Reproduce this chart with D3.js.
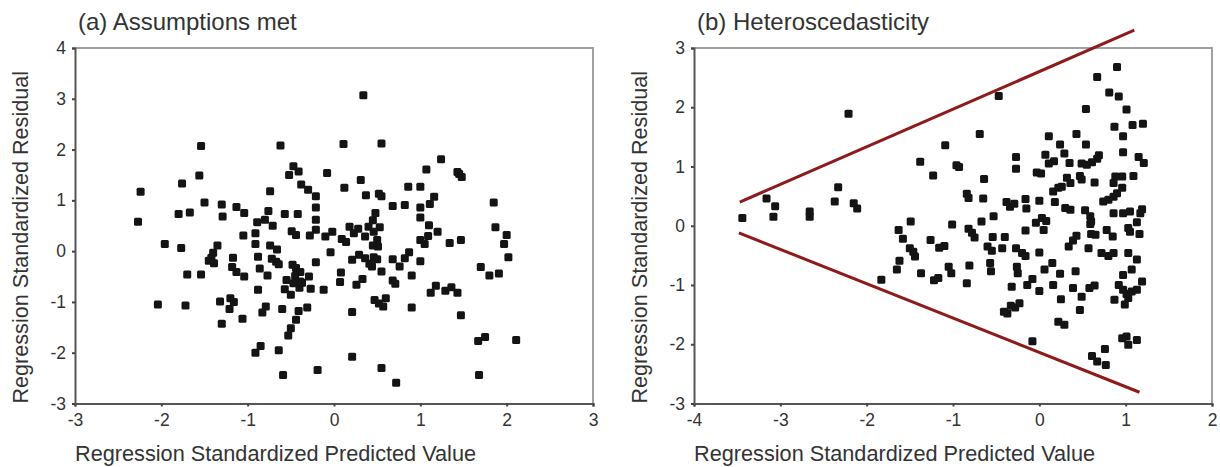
<!DOCTYPE html>
<html>
<head>
<meta charset="utf-8">
<script src="https://cdn.jsdelivr.net/npm/d3@7"></script>
<style>
  body { margin: 0; background: #fff; }
  svg text { font-family: "Liberation Sans", Arial, sans-serif; fill: #333; }
</style>
</head>
<body>
<div id="chart"></div>
<script>
// residuals vs predicted, panel (a)
const assumptionsMet = [
  [0.34,3.07],[-1.54,2.07],[-0.62,2.08],[0.11,2.11],[0.55,2.12],[1.24,1.81],[-1.56,1.49],[-0.47,1.67],
  [-0.41,1.57],[-0.52,1.50],[-0.08,1.54],[1.07,1.61],[1.43,1.56],[1.45,1.52],[1.48,1.46],[0.31,1.40],
  [-1.76,1.33],[-2.24,1.17],[-0.74,1.18],[-0.38,1.31],[-0.30,1.21],[0.12,1.25],[0.86,1.27],[1.00,1.27],
  [-0.21,1.08],[0.37,1.10],[0.52,1.13],[0.55,1.08],[1.16,1.07],[-1.50,0.96],[-1.30,0.92],[1.85,0.96],
  [-1.13,0.87],[-0.21,0.86],[0.68,0.89],[0.82,0.91],[1.00,0.86],[1.11,0.93],[-1.67,0.76],[-1.80,0.73],
  [-1.29,0.68],[-1.04,0.75],[-0.76,0.79],[-0.57,0.73],[-0.42,0.73],[-2.27,0.58],[-0.89,0.57],[-0.80,0.62],
  [-0.71,0.50],[-0.21,0.62],[0.48,0.75],[0.45,0.61],[1.00,0.66],[-1.05,0.31],[-0.91,0.35],[-0.49,0.39],
  [-0.44,0.32],[-0.28,0.31],[-0.21,0.42],[-0.10,0.29],[-0.02,0.38],[0.09,0.24],[0.18,0.48],[0.23,0.35],
  [0.28,0.44],[0.36,0.29],[0.40,0.48],[0.53,0.47],[1.09,0.30],[1.10,0.51],[1.20,0.38],[1.87,0.47],
  [2.00,0.32],[-1.96,0.14],[-1.77,0.06],[-1.35,0.11],[-0.91,0.14],[-0.74,0.11],[-0.66,0.03],[-0.04,-0.02],
  [0.14,0.18],[0.45,0.11],[0.51,0.09],[1.00,0.22],[1.05,0.14],[1.34,0.16],[1.47,0.22],[1.97,0.14],
  [-1.40,-0.03],[-1.42,-0.13],[-1.45,-0.19],[-1.39,-0.24],[-1.17,-0.13],[-0.88,-0.11],[-0.72,-0.15],[-0.67,-0.21],
  [-0.64,-0.26],[-0.21,-0.22],[0.21,-0.17],[0.29,-0.07],[0.36,-0.14],[0.41,-0.25],[0.46,-0.12],[0.50,-0.16],
  [0.68,-0.16],[0.76,-0.30],[0.82,-0.14],[0.87,-0.02],[1.00,-0.20],[2.02,-0.12],[-1.70,-0.46],[-1.54,-0.46],
  [-1.18,-0.31],[-1.13,-0.41],[-1.04,-0.50],[-0.86,-0.34],[-0.77,-0.48],[-0.48,-0.27],[-0.44,-0.33],[-0.39,-0.41],
  [-0.29,-0.50],[0.08,-0.42],[0.55,-0.40],[0.90,-0.48],[1.70,-0.31],[1.80,-0.48],[1.91,-0.44],[-0.55,-0.57],
  [-0.45,-0.49],[-0.37,-0.62],[0.07,-0.61],[0.26,-0.66],[0.33,-0.55],[0.68,-0.58],[0.71,-0.64],[-0.88,-0.76],
  [-0.57,-0.75],[-0.50,-0.86],[-0.40,-0.72],[-0.27,-0.74],[-0.12,-0.76],[1.12,-0.82],[1.18,-0.68],[1.29,-0.78],
  [1.36,-0.71],[1.43,-0.82],[-2.04,-1.05],[-1.72,-1.07],[-1.32,-0.99],[-1.20,-0.93],[-1.16,-1.00],[-1.21,-1.14],
  [-0.79,-1.09],[-0.83,-1.21],[-0.60,-1.14],[-0.41,-1.18],[-0.31,-1.11],[0.47,-0.96],[0.52,-1.03],[0.60,-0.93],
  [0.57,-1.09],[0.90,-1.11],[0.21,-1.20],[1.47,-1.26],[-1.30,-1.43],[-1.06,-1.33],[-0.44,-1.35],[-0.50,-1.52],
  [-0.53,-1.66],[-0.91,-2.00],[-0.85,-1.87],[-0.64,-1.95],[1.67,-1.77],[1.75,-1.69],[2.11,-1.75],[0.21,-2.08],
  [-0.59,-2.44],[-0.19,-2.34],[0.55,-2.30],[0.72,-2.59],[1.68,-2.44],[0.46,0.38],[0.50,0.22],[0.44,-0.30],
  [-0.47,-0.63],[-0.39,-0.60]
];

// residuals vs predicted, panel (b)
const heteroscedasticity = [
  [-3.44,0.13],[-3.16,0.46],[-3.06,0.33],[-3.08,0.15],[-2.66,0.24],[-2.66,0.15],[-2.33,0.65],[-2.37,0.41],
  [-2.21,1.89],[-2.15,0.38],[-2.11,0.29],[-1.83,-0.91],[-0.47,2.19],[-1.63,-0.07],[-1.58,-0.22],[-1.49,0.07],
  [-1.50,-0.38],[-1.46,-0.44],[-1.44,-0.52],[-1.62,-0.59],[-1.65,-0.74],[-1.38,1.08],[-1.37,-0.80],[-1.23,0.85],
  [-1.26,-0.24],[-1.22,-0.92],[-1.17,-0.88],[-1.16,-0.37],[-1.10,-0.34],[-1.09,1.36],[-1.05,-0.69],[-1.02,-0.80],
  [-1.01,0.02],[-0.96,1.02],[-0.93,0.99],[-0.84,0.54],[-0.82,0.47],[-0.82,-0.05],[-0.78,-0.12],[-0.75,-0.20],
  [-0.81,-0.67],[-0.84,-0.97],[-0.69,1.55],[-0.64,0.79],[-0.65,0.46],[-0.67,0.07],[-0.60,-0.35],[-0.55,-0.42],
  [-0.57,-0.63],[-0.56,-0.77],[-0.53,0.16],[-0.54,-0.19],[-0.43,-0.38],[-0.40,-0.19],[-0.38,0.40],[-0.34,0.32],
  [-0.29,0.37],[-0.27,1.16],[-0.27,0.96],[-0.27,-0.38],[-0.26,-0.69],[-0.25,-0.80],[-0.32,-1.03],[-0.41,-1.45],
  [-0.37,-1.48],[-0.33,-1.35],[-0.28,-1.38],[-0.23,-1.31],[-0.20,-0.46],[-0.16,-0.51],[-0.16,0.45],[-0.15,0.29],
  [-0.16,-0.08],[-0.14,-1.00],[-0.08,-0.90],[-0.08,-1.95],[-0.03,0.90],[0.02,0.88],[0.00,0.42],[-0.04,0.05],
  [0.03,0.13],[0.08,0.08],[0.05,-0.07],[0.00,-0.45],[0.00,-1.10],[0.07,1.20],[0.11,1.51],[0.11,1.05],
  [0.17,1.09],[0.16,0.58],[0.22,0.64],[0.26,0.66],[0.18,0.40],[0.06,-0.74],[0.15,-0.63],[0.16,-1.00],
  [0.24,1.37],[0.29,1.22],[0.35,1.06],[0.30,0.30],[0.36,0.27],[0.24,-0.81],[0.25,-1.24],[0.22,-1.62],
  [0.29,-1.67],[0.32,0.81],[0.36,0.72],[0.34,-0.35],[0.39,-0.25],[0.43,-0.17],[0.42,-0.77],[0.39,-1.05],
  [0.43,1.55],[0.49,-1.20],[0.47,-1.42],[0.47,0.84],[0.49,0.78],[0.49,1.05],[0.55,1.03],[0.61,1.07],
  [0.67,1.13],[0.69,1.19],[0.54,1.97],[0.54,1.37],[0.53,0.26],[0.59,0.16],[0.60,0.07],[0.57,-0.38],
  [0.59,0.03],[0.60,-0.14],[0.65,-0.15],[0.58,-1.05],[0.64,-1.01],[0.64,0.73],[0.61,-2.20],[0.67,-2.29],
  [0.77,-2.35],[0.76,-2.08],[0.67,2.51],[0.72,-0.46],[0.80,-0.51],[0.86,-0.46],[0.78,-0.07],[0.85,-0.18],
  [0.74,0.41],[0.80,0.44],[0.86,0.49],[0.90,0.55],[0.96,0.64],[0.86,0.72],[0.88,0.83],[0.96,0.83],
  [0.81,2.25],[0.92,2.18],[0.87,1.67],[0.90,2.68],[0.86,0.21],[0.87,-1.25],[0.92,-1.00],[0.97,-1.08],
  [1.01,-1.15],[1.03,-1.22],[0.99,-1.33],[1.07,-1.11],[1.13,-1.08],[1.19,-0.94],[0.97,1.51],[0.97,1.24],
  [1.01,1.96],[0.97,-0.83],[1.07,-0.74],[0.97,0.21],[1.05,0.24],[1.03,-0.04],[1.05,-0.10],[1.13,0.06],
  [1.16,-0.14],[1.03,-0.46],[1.13,-0.57],[0.96,-1.90],[1.01,-1.87],[1.03,-2.01],[1.13,-1.93],[1.09,0.84],
  [1.08,1.70],[1.20,1.72],[1.15,1.16],[1.21,1.06],[1.19,0.28],[1.17,0.21]
];

// funnel drawn over panel (b)
const coneUpper = [[-3.47, 0.40], [1.10, 3.30]];
const coneLower = [[-3.48, -0.12], [1.16, -2.81]];

const xTicksA = [-3, -2, -1, 0, 1, 2, 3];
const yTicksA = [-3, -2, -1, 0, 1, 2, 3, 4];
const xTicksB = [-4, -3, -2, -1, 0, 1, 2];
const yTicksB = [-3, -2, -1, 0, 1, 2, 3];

const titles = ['(a) Assumptions met', '(b) Heteroscedasticity'];
const xLabel = 'Regression Standardized Predicted Value';
const yLabel = 'Regression Standardized Residual';

const width = 1220;
const height = 467;
const plotTop = 48;
const plotBottom = 403.5;

const svg = d3.select('#chart')
  .append('svg')
  .attr('width', width)
  .attr('height', height);

// plain hyphen for negatives, like the original figure
const tickFmt = d => String(d);

const drawPanel = ({ left, right, xDomain, yDomain, xTicks, yTicks, points, title, cones }) => {
  const x = d3.scaleLinear().domain(xDomain).range([left, right]);
  const y = d3.scaleLinear().domain(yDomain).range([plotBottom, plotTop]);
  const g = svg.append('g');

  // light frame on top / right
  g.append('path')
    .attr('d', `M${left},${plotTop}H${right}V${plotBottom}`)
    .attr('fill', 'none')
    .attr('stroke', '#a0a0a0')
    .attr('stroke-width', 2);

  const xAxis = g.append('g')
    .attr('transform', `translate(0,${plotBottom})`)
    .call(d3.axisBottom(x).tickValues(xTicks).tickSize(3).tickPadding(7).tickFormat(tickFmt));
  const yAxis = g.append('g')
    .attr('transform', `translate(${left},0)`)
    .call(d3.axisLeft(y).tickValues(yTicks).tickSize(3).tickPadding(6).tickFormat(tickFmt));

  [xAxis, yAxis].forEach(ax => {
    ax.select('.domain').attr('stroke', '#555').attr('stroke-width', 2);
    ax.selectAll('.tick line').attr('stroke', '#444').attr('stroke-width', 2);
    ax.selectAll('.tick text')
      .attr('fill', '#333')
      .style('font-size', '17.5px')
      .style('font-family', '"Liberation Sans", Arial, sans-serif');
  });

  g.selectAll('rect.pt')
    .data(points)
    .enter()
    .append('rect')
    .attr('class', 'pt')
    .attr('x', d => x(d[0]) - 4)
    .attr('y', d => y(d[1]) - 4)
    .attr('width', 8)
    .attr('height', 8)
    .attr('rx', 1.5)
    .attr('fill', '#141414');

  if (cones) {
    const line = d3.line().x(d => x(d[0])).y(d => y(d[1]));
    cones.forEach(c => {
      g.append('path')
        .attr('d', line(c))
        .attr('fill', 'none')
        .attr('stroke', '#8e1b1b')
        .attr('stroke-width', 3);
    });
  }

  g.append('text')
    .attr('x', left + 3)
    .attr('y', 30)
    .style('font-size', '24px')
    .text(title);

  g.append('text')
    .attr('x', left)
    .attr('y', 461)
    .style('font-size', '21.7px')
    .text(xLabel);

  g.append('text')
    .attr('transform', `translate(${left - 47},${plotBottom}) rotate(-90)`)
    .style('font-size', '21.6px')
    .text(yLabel);
};

drawPanel({
  left: 75, right: 593,
  xDomain: [-3, 3], yDomain: [-3, 4],
  xTicks: xTicksA, yTicks: yTicksA,
  points: assumptionsMet, title: titles[0]
});

drawPanel({
  left: 694, right: 1212,
  xDomain: [-4, 2], yDomain: [-3, 3],
  xTicks: xTicksB, yTicks: yTicksB,
  points: heteroscedasticity, title: titles[1],
  cones: [coneUpper, coneLower]
});
</script>
</body>
</html>
